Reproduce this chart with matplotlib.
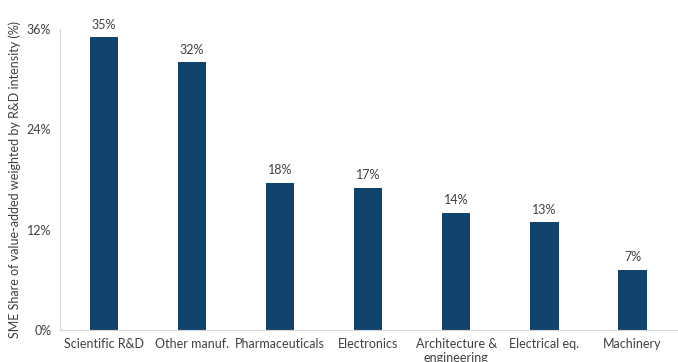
import matplotlib.pyplot as plt
import numpy as np

plt.rcParams['font.family'] = ['Lato', 'DejaVu Sans']

# data
sectors = ['Scientific R&D', 'Other manuf.', 'Pharmaceuticals', 'Electronics',
           'Architecture &\nengineering', 'Electrical eq.', 'Machinery']
shares = [35.0, 32.0, 17.6, 17.0, 14.0, 12.9, 7.2]
yticks = [0, 12, 24, 36]

fig = plt.figure(figsize=(6.78, 3.62), dpi=100)
ax = fig.add_axes([0.088, 0.088, 0.91, 0.832])

x = np.arange(len(sectors))
bars = ax.bar(x, shares, width=0.32, color='#12436D')

for xi, v in zip(x, shares):
    ax.text(xi, v + 0.8, f'{v:.0f}%', ha='center', va='bottom',
            fontsize=9, color='#404040')

ax.set_xlim(-0.5, len(sectors) - 0.5)
ax.set_ylim(0, 36)
ax.set_yticks(yticks)
ax.set_yticklabels([f'{t}%' for t in yticks])
ax.set_xticks(x)
ax.set_xticklabels(sectors)
ax.tick_params(axis='both', length=0, labelsize=9, colors='#404040')
ax.tick_params(axis='x', pad=6)
ax.tick_params(axis='y', pad=6)

ax.set_ylabel('SME Share of value-added weighted by R&D intensity (%)',
              fontsize=9, color='#404040', labelpad=4)

for s in ['top', 'right']:
    ax.spines[s].set_visible(False)
for s in ['left', 'bottom']:
    ax.spines[s].set_color('#D9D9D9')

fig.savefig('out.png', dpi=100)
